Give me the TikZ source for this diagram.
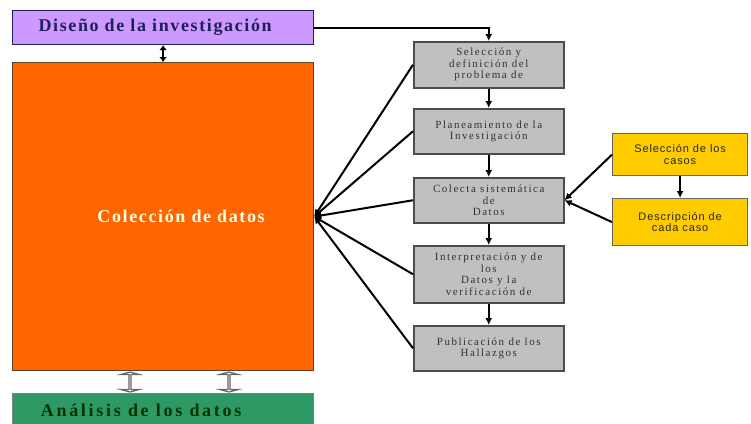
\documentclass[tikz,border=0pt]{standalone}
\usepackage{fontspec}
\setmainfont{Liberation Serif}
\newfontfamily\casefont{Liberation Sans}
\usetikzlibrary{shapes.arrows,arrows.meta}

\definecolor{lila}{HTML}{CC99FF}
\definecolor{navytext}{HTML}{1F1F5C}
\definecolor{orangebox}{HTML}{FF6600}
\definecolor{greenbox}{HTML}{2F9966}
\definecolor{graybox}{HTML}{C0C0C0}
\definecolor{yellowbox}{HTML}{FFCC00}

\begin{document}
\begin{tikzpicture}[x=1pt,y=-1pt,
      every node/.style={inner sep=0pt},
      bigbox/.style={draw,line width=1.2pt,minimum width=301pt,anchor=north west},
      stepbox/.style={draw=black!70,line width=1.5pt,fill=graybox,minimum width=150pt,
        anchor=north west,align=center,text=black!80,
        font=\addfontfeature{LetterSpace=14}\fontsize{11}{11.5}\selectfont},
      casebox/.style={draw=black!60,line width=1.2pt,fill=yellowbox,minimum width=135pt,
        anchor=north west,align=center,text=black!85,
        font=\casefont\addfontfeature{LetterSpace=8}\fontsize{11}{11.5}\selectfont},
      updown/.style={double arrow,rotate=90,draw=black!60,fill=white,line width=1.2pt,
        minimum height=20pt,minimum width=18pt,double arrow head extend=5pt,
        double arrow tip angle=150},
      link/.style={line width=2pt,-{Latex[length=7pt,width=7pt]}}]

      \useasboundingbox (0,0) rectangle (751,423);

      % left column
      \node[bigbox,draw=navytext,fill=lila,minimum height=34pt] (dis) at (12,10)
        {\color{navytext}\fontsize{18}{20}\selectfont\bfseries\addfontfeature{LetterSpace=9}Diseño de la investigación\hspace*{16pt}};
      \node[bigbox,draw=brown!50!black,fill=orangebox,minimum height=308pt] (col) at (12,62)
        {\color{white!90!yellow}\hspace*{36pt}\fontsize{18}{20}\selectfont\bfseries\addfontfeature{LetterSpace=9}Colección de datos};
      \node[bigbox,draw=black!50,fill=greenbox,minimum height=34pt] (ana) at (12,393)
        {\color{black!80!green}\fontsize{18}{20}\selectfont\bfseries\addfontfeature{LetterSpace=15}Análisis de los datos\hspace*{44pt}};

      \draw[line width=2pt,{Latex[length=5pt,width=8pt]}-{Latex[length=5pt,width=8pt]}]
        (dis.south) -- (col.north);
      \node[updown] (hA) at (130,382) {};
      \node[updown] (hB) at (229,382) {};

      % steps
      \node[stepbox,minimum height=46pt] (s1) at (413,41) {Selección y\\definición del\\problema de};
      \node[stepbox,minimum height=45pt] (s2) at (413,108) {Planeamiento de la\\Investigación};
      \node[stepbox,minimum height=45pt] (s3) at (413,177) {Colecta sistemática\\de\\Datos};
      \node[stepbox,minimum height=57pt] (s4) at (413,245) {Interpretación y de\\los\\Datos y la\\verificación de};
      \node[stepbox,minimum height=45pt] (s5) at (413,325) {Publicación de los\\Hallazgos};

      % cases
      \node[casebox,minimum height=42pt] (c1) at (612,133) {Selección de los\\casos};
      \node[casebox,minimum height=47pt] (c2) at (612,198) {Descripción de\\cada caso};

      \draw[link] (dis.east) -| (s1.north);
      \draw[link] (s1) -- (s2);
      \draw[link] (s2) -- (s3);
      \draw[link] (s3) -- (s4);
      \draw[link] (s4) -- (s5);
      \foreach \s in {s1,s2,s3,s4,s5}
        \draw[link] (\s.west) -- (col.east);

      \draw[link] (c1) -- (c2);
      \draw[link] (c1.west) -- (s3.east);
      \draw[link] (c2.west) -- (s3.east);
    \end{tikzpicture}
\end{document}
